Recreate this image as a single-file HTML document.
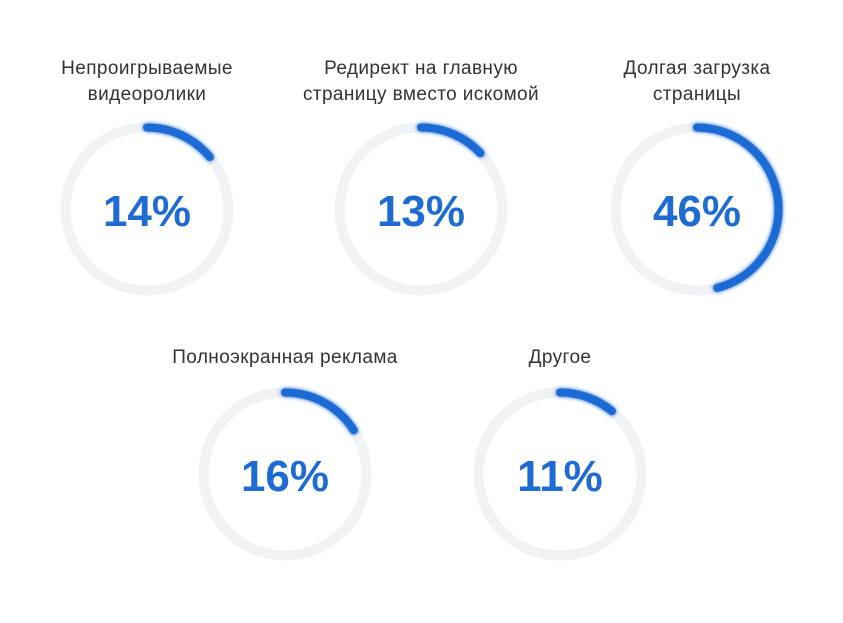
<!DOCTYPE html>
<html><head><meta charset="utf-8"><style>
body{margin:0;background:#fff;}
svg{display:block}
.l{font-family:"Liberation Sans",sans-serif;font-size:19px;letter-spacing:0.4px;fill:#333;text-anchor:middle}
.n{font-family:"Liberation Sans",sans-serif;font-size:44px;font-weight:bold;fill:#1f6bd4;text-anchor:middle}
</style></head><body>
<svg width="843" height="623" viewBox="0 0 843 623">
<defs><filter id="g" x="-20%" y="-20%" width="140%" height="140%"><feGaussianBlur stdDeviation="2" result="b"/><feMerge><feMergeNode in="b"/><feMergeNode in="SourceGraphic"/></feMerge></filter></defs>
<text class="l" x="147" y="74">Непроигрываемые</text>
<text class="l" x="147" y="100">видеоролики</text>
<text class="l" x="421" y="74">Редирект на главную</text>
<text class="l" x="421" y="100">страницу вместо искомой</text>
<text class="l" x="697" y="74">Долгая загрузка</text>
<text class="l" x="697" y="100">страницы</text>
<text class="l" x="285" y="363">Полноэкранная реклама</text>
<text class="l" x="560" y="363">Другое</text>

<g fill="none">
<circle cx="147" cy="209" r="81.5" stroke="#f1f2f4" stroke-width="10"/>
<circle cx="421" cy="209" r="81.5" stroke="#f1f2f4" stroke-width="10"/>
<circle cx="697" cy="209" r="81.5" stroke="#f1f2f4" stroke-width="10"/>
<circle cx="285" cy="474" r="81.5" stroke="#f1f2f4" stroke-width="10"/>
<circle cx="560" cy="474" r="81.5" stroke="#f1f2f4" stroke-width="10"/>
<g stroke="#1f6bd4" stroke-width="8" stroke-linecap="round" filter="url(#g)">
<circle cx="147" cy="209" r="81.5" stroke-dasharray="71.7 600" transform="rotate(-90 147 209)"/>
<circle cx="421" cy="209" r="81.5" stroke-dasharray="66.6 600" transform="rotate(-90 421 209)"/>
<circle cx="697" cy="209" r="81.5" stroke-dasharray="235.5 600" transform="rotate(-90 697 209)"/>
<circle cx="285" cy="474" r="81.5" stroke-dasharray="81.9 600" transform="rotate(-90 285 474)"/>
<circle cx="560" cy="474" r="81.5" stroke-dasharray="56.3 600" transform="rotate(-90 560 474)"/>
</g></g>
<text class="n" x="147" y="226">14%</text>
<text class="n" x="421" y="226">13%</text>
<text class="n" x="697" y="226">46%</text>
<text class="n" x="285" y="491">16%</text>
<text class="n" x="560" y="491">11%</text>
</svg>
</body></html>
